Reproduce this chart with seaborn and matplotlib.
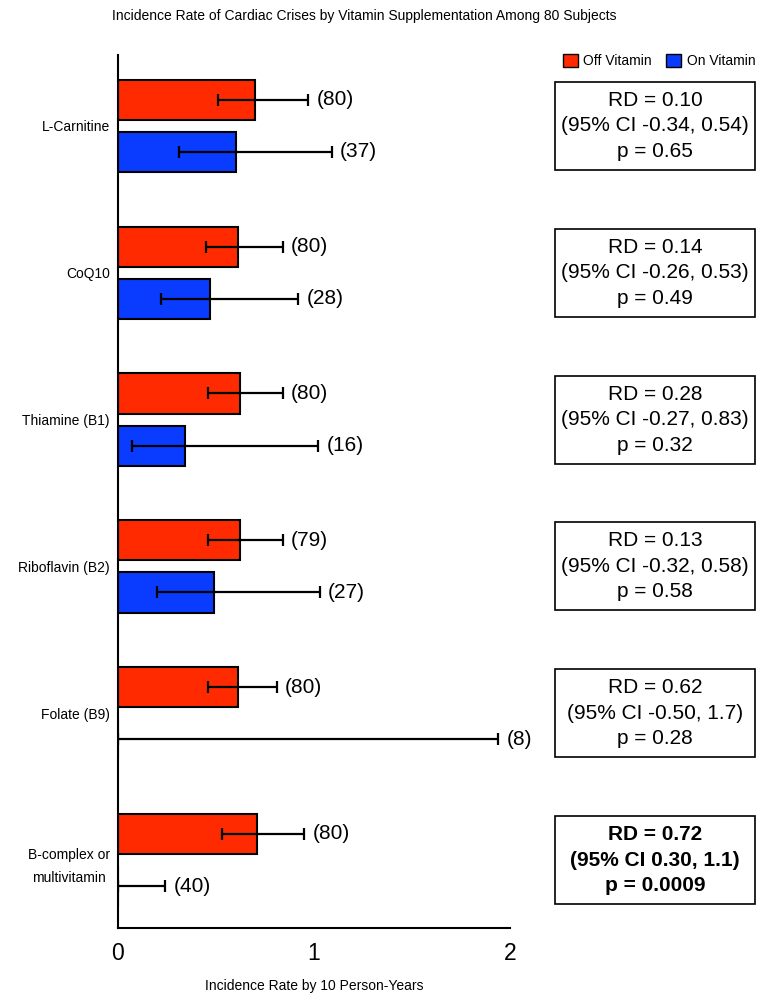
import seaborn as sns
import matplotlib.pyplot as plt
import pandas as pd
from matplotlib.patches import Patch, Rectangle

# values
vitamins = ["L-Carnitine", "CoQ10", "Thiamine (B1)", "Riboflavin (B2)",
            "Folate (B9)", "B-complex or\nmultivitamin"]
groups = ["Off Vitamin", "On Vitamin"]

off_rate = [0.70, 0.61, 0.62, 0.62, 0.61, 0.71]
off_low = [0.51, 0.45, 0.46, 0.46, 0.46, 0.53]
off_high = [0.97, 0.84, 0.84, 0.84, 0.81, 0.95]
off_n = [80, 80, 80, 79, 80, 80]

on_rate = [0.60, 0.47, 0.34, 0.49, 0.0, 0.0]
on_low = [0.31, 0.22, 0.07, 0.20, 0.0, 0.0]
on_high = [1.09, 0.92, 1.02, 1.03, 1.94, 0.24]
on_n = [37, 28, 16, 27, 8, 40]

rd = ["0.10", "0.14", "0.28", "0.13", "0.62", "0.72"]
ci = ["-0.34, 0.54", "-0.26, 0.53", "-0.27, 0.83", "-0.32, 0.58", "-0.50, 1.7", "0.30, 1.1"]
pval = ["0.65", "0.49", "0.32", "0.58", "0.28", "0.0009"]
significant = [False, False, False, False, False, True]

colors = {"Off Vitamin": "#ff2a00", "On Vitamin": "#0a3cff"}

sns.set_style('white')
plt.rcParams['font.family'] = ['Liberation Sans', 'DejaVu Sans']
plt.rcParams['text.color'] = 'black'
plt.rcParams['axes.labelcolor'] = 'black'
plt.rcParams['xtick.color'] = 'black'
plt.rcParams['ytick.color'] = 'black'

df = pd.DataFrame({
    'vitamin': vitamins * 2,
    'status': [groups[0]] * len(vitamins) + [groups[1]] * len(vitamins),
    'rate': off_rate + on_rate,
})

fig = plt.figure(figsize=(7.76, 10), dpi=100)
ax = fig.add_axes([118 / 776, 0.072, 392 / 776, 0.873])

sns.barplot(data=df, x='rate', y='vitamin', hue='status', orient='h',
            palette=colors, saturation=1, width=0.71, gap=0.23, edgecolor='black',
            linewidth=1.5, errorbar=None, legend=False, ax=ax)

# error bars and counts, placed at the bar centres seaborn chose
series = [(off_rate, off_low, off_high, off_n), (on_rate, on_low, on_high, on_n)]
for cont, (rate, low, high, n) in zip(ax.containers, series):
    ys = [b.get_y() + b.get_height() / 2 for b in cont]
    ax.errorbar(rate, ys, xerr=[[r - l for r, l in zip(rate, low)],
                                [h - r for r, h in zip(rate, high)]],
                fmt='none', ecolor='black', elinewidth=1.6, capsize=4.5,
                capthick=1.6, zorder=5)
    for y, h, k in zip(ys, high, n):
        ax.annotate(f"({k})", (h, y), xytext=(6, 0), textcoords='offset points',
                    va='center', ha='left', fontsize=15)

ax.set_xlim(0, 2)
ax.set_ylim(5.463, -0.483)
ax.set_xticks([0, 1, 2])
ax.set_xticklabels(['0', '1', '2'], fontsize=16.5)
ax.tick_params(axis='x', length=6, width=1.5, pad=4)
ax.tick_params(axis='y', length=0, pad=6, labelsize=10)
for lbl in ax.get_yticklabels():
    lbl.set_linespacing(1.9)
    lbl.set_multialignment('center')
ax.set_ylabel('')
ax.set_xlabel('Incidence Rate by 10 Person-Years', fontsize=10, labelpad=10)
sns.despine(ax=ax)
for s in ['left', 'bottom']:
    ax.spines[s].set_linewidth(1.5)
    ax.spines[s].set_color('black')

# stat boxes on the right, same vertical scale as the bars
bx = fig.add_axes([555 / 776, 0.072, 200 / 776, 0.873])
bx.set_xlim(0, 1)
bx.set_ylim(5.463, -0.483)
bx.axis('off')
for i in range(len(vitamins)):
    bx.add_patch(Rectangle((0, i - 0.3), 1, 0.6, facecolor='white',
                           edgecolor='black', linewidth=1.2, clip_on=False))
    txt = f"RD = {rd[i]}\n(95% CI {ci[i]})\np = {pval[i]}"
    bx.text(0.5, i, txt, ha='center', va='center', fontsize=15,
            linespacing=1.43, fontweight='bold' if significant[i] else 'normal')

handles = [Patch(facecolor=colors[g], edgecolor='black', linewidth=1) for g in groups]
fig.legend(handles, groups, loc='center', bbox_to_anchor=(659 / 776, 1 - 61 / 1000),
           ncol=2, frameon=False, fontsize=10, handlelength=1.1, handleheight=1.1,
           handletextpad=0.4, columnspacing=1.0)

fig.text(364 / 776, 1 - 16 / 1000,
         'Incidence Rate of Cardiac Crises by Vitamin Supplementation Among 80 Subjects',
         ha='center', va='center', fontsize=10)

plt.savefig('out.png', dpi=100)
